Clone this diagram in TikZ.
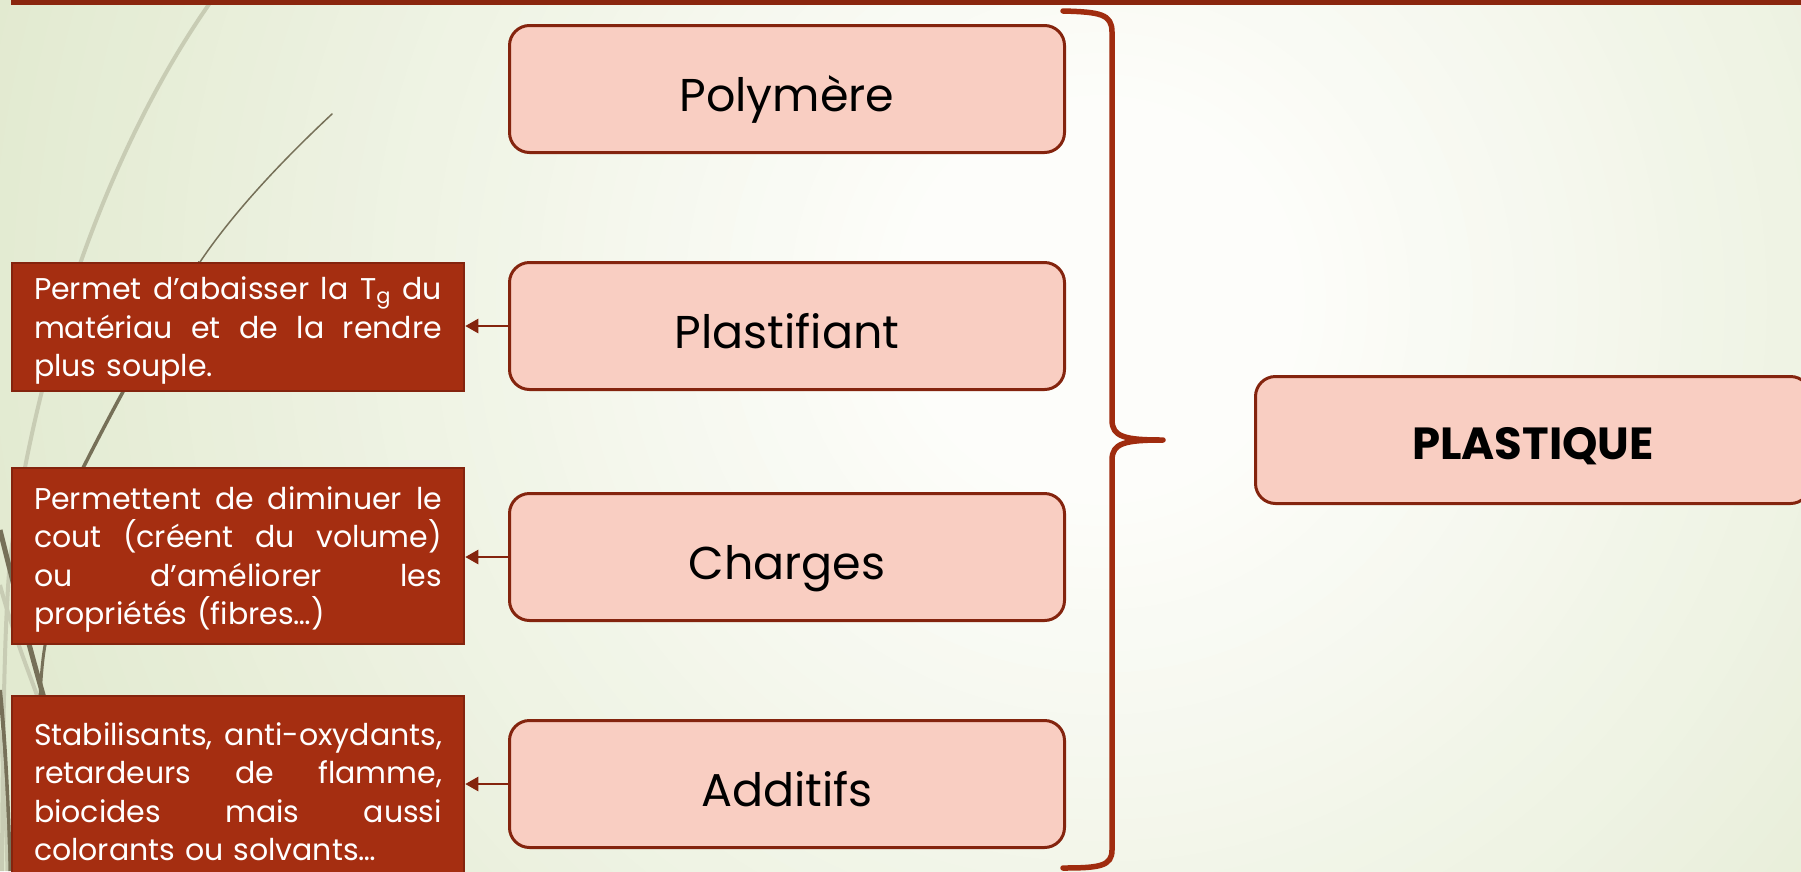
\documentclass[tikz,border=0pt]{standalone}
\usepackage{fontspec}
\setmainfont{Poppins}
\usetikzlibrary{arrows.meta}
\definecolor{bgg}{RGB}{226,234,208}
\definecolor{bgw}{RGB}{253,253,250}
\definecolor{bord}{RGB}{132,36,14}
\definecolor{pinkf}{RGB}{249,206,194}
\definecolor{darkf}{RGB}{165,46,17}
\definecolor{barc}{RGB}{138,38,14}
\definecolor{bracec}{RGB}{160,44,15}
\definecolor{strandd}{RGB}{118,112,88}
\definecolor{strandl}{RGB}{200,204,180}
\newcommand{\jl}[1]{\makebox[408pt][s]{#1}}
\tikzset{
  lbox/.style={draw=bord, fill=pinkf, line width=3pt, rounded corners=20pt,
    minimum width=555pt, minimum height=127pt, inner sep=0pt,
    text height=44pt, text depth=0pt,
    font=\fontsize{46}{56}\selectfont},
  dbox/.style={draw=bord, fill=darkf, line width=2.5pt, text=white,
    minimum width=452pt, inner xsep=22pt, inner ysep=0pt, text width=408pt, align=left,
    font=\fontsize{30}{38.5}\selectfont},
  conn/.style={draw=bord, line width=2.5pt, -{Triangle[length=13pt,width=14pt]}},
}
\begin{document}
\begin{tikzpicture}[x=1pt,y=-1pt]
\useasboundingbox (0,0) rectangle (1801,871);
% background
\fill[bgg] (0,0) rectangle (1801,871);
\begin{scope}
\clip (0,0) rectangle (1801,871);
\foreach \i in {0,...,45}{
  \pgfmathsetmacro{\rr}{1150-\i*21}
  \pgfmathsetmacro{\cc}{\i*100/45}
  \fill[bgw!\cc!bgg] (1100,300) circle (\rr pt);
}
% decorative strands
\draw[strandl, line width=4pt] (212,0) .. controls (120,130) and (40,330) .. (10,560) .. controls (5,620) and (3,700) .. (2,871);
\draw[strandd, line width=1.5pt, line cap=round] (332,114) .. controls (285,158) and (235,210) .. (200,262);
\draw[strandd, line width=3.5pt] (200,262) .. controls (165,315) and (125,385) .. (82,470);
\draw[strandd, line width=5pt] (0,530) .. controls (15,590) and (30,650) .. (44,698);
\draw[strandl, line width=4pt] (0,585) .. controls (12,630) and (28,670) .. (38,698);
\draw[strandd, line width=3pt] (46,640) .. controls (42,660) and (41,680) .. (40,698);
\draw[strandd, line width=4pt] (0,690) .. controls (5,740) and (8,800) .. (10,871);
\draw[strandl, line width=3pt] (0,730) .. controls (4,780) and (6,830) .. (7,871);
\end{scope}
% top bar
\fill[barc] (11,0) rectangle (1801,5);
% main boxes
\node[lbox] (poly) at (787,89) {Polymère};
\node[lbox] (plast) at (787,326) {Plastifiant};
\node[lbox] (charg) at (787,557) {Charges};
\node[lbox] (addit) at (787,784) {Additifs};
\node[lbox, text height=38pt, font=\fontsize{45}{54}\selectfont\bfseries] (plastique) at (1533,440) {PLASTIQUE};
% description boxes
\node[dbox, minimum height=128pt] (d1) at (238,327) {%
\rule{0pt}{30pt}\jl{Permet\hfill d’abaisser\hfill la\hfill T\textsubscript{g}\hfill du}\\
\jl{matériau\hfill et\hfill de\hfill la\hfill rendre}\\
plus souple.};
\node[dbox, minimum height=176pt] (d2) at (238,556) {%
\rule{0pt}{30pt}\jl{Permettent\hfill de\hfill diminuer\hfill le}\\
\jl{cout\hfill (créent\hfill du\hfill volume)}\\
\jl{ou\hfill d’améliorer\hfill les}\\
propriétés (fibres…)};
\node[dbox, minimum height=184pt] (d3) at (238,788) {%
\rule{0pt}{30pt}\jl{Stabilisants,\hfill anti-oxydants,}\\
\jl{retardeurs\hfill de\hfill flamme,}\\
\jl{biocides\hfill mais\hfill aussi}\\
colorants ou solvants…};
% connectors
\draw[conn] (plast.west) -- (plast.west -| d1.east);
\draw[conn] (charg.west) -- (charg.west -| d2.east);
\draw[conn] (addit.west) -- (addit.west -| d3.east);
% brace
\draw[bracec, line width=5.5pt, line cap=round, line join=round]
  (1063,11) .. controls (1100,12) and (1112,14) .. (1112,32) -- (1112,420)
  .. controls (1112,437) and (1125,440) .. (1163,440)
  .. controls (1125,440) and (1112,443) .. (1112,460) -- (1112,850)
  .. controls (1112,866) and (1100,868) .. (1063,868);
\end{tikzpicture}
\end{document}
